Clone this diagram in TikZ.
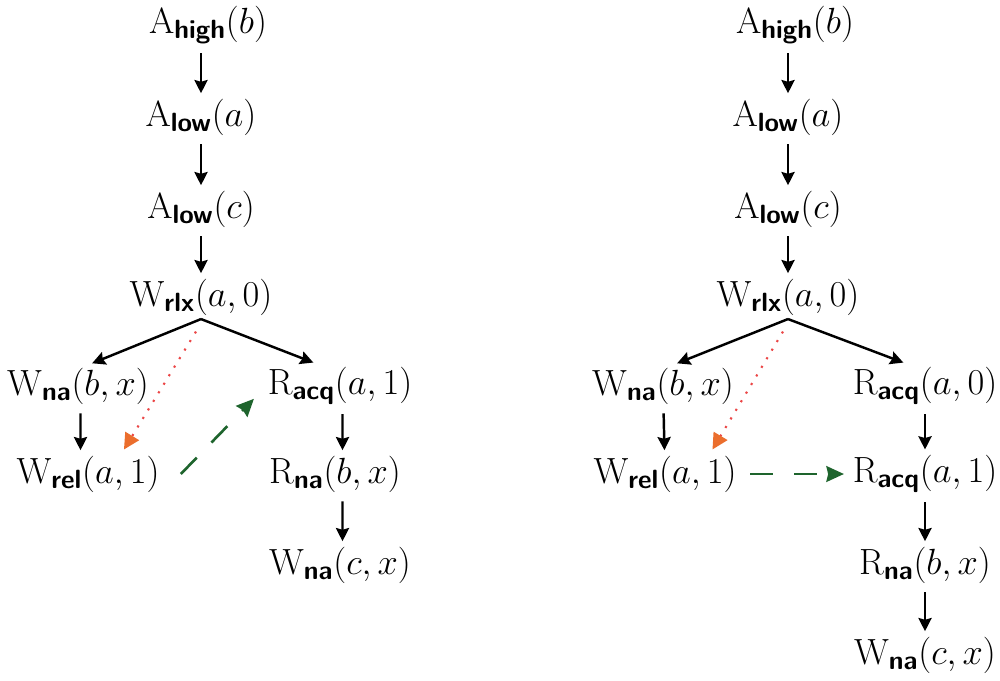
\documentclass[tikz,border=0pt]{standalone}
\usepackage{amsmath}
\usepackage{xcolor}
\usetikzlibrary{arrows.meta, calc}

\definecolor{hbred}{RGB}{235,70,70}
\definecolor{hbtip}{RGB}{235,110,45}
\definecolor{swgreen}{RGB}{30,100,45}

\DeclareMathSizes{20}{20}{15}{11}
\newcommand{\ev}[3]{$\mathrm{#1}_{\textsf{\textbf{#2}}}(#3)$}

\begin{document}
\begin{tikzpicture}[
    x=0.02cm, y=-0.02cm,
    font=\fontsize{20}{24}\selectfont,
    >={Stealth[length=7.5pt, width=7.5pt, inset=1pt]},
    % Node styles
    event/.style={inner sep=2pt, anchor=center},
    % Edge styles
    po/.style={->, line width=1.4pt, draw=black, shorten >=1pt, shorten <=3pt},
    hb/.style={dash pattern=on 1.2pt off 4.5pt, line width=1.2pt, draw=hbred, -{Triangle[color=hbtip, length=9pt, width=9pt]}},
    sw/.style={dash pattern=on 13pt off 12pt, line width=1.5pt, draw=swgreen, -{Stealth[color=swgreen, length=10pt, width=9pt, inset=1pt]}}
]
\useasboundingbox (0,0) rectangle (1000,680);

% -----------------------------------------------------------
% LEFT: execution graph
% -----------------------------------------------------------
\node[event] (ahigh) at (208, 25) {\ev{A}{high}{b}};
\node[event] (alowa) at (201, 117) {\ev{A}{low}{a}};
\node[event] (alowc) at (201, 209) {\ev{A}{low}{c}};
\node[event] (wrlx) at (201, 297) {\ev{W}{rlx}{a, 0}};
\node[event] (wnab) at (78, 386) {\ev{W}{na}{b, x}};
\node[event] (racq) at (340, 386) {\ev{R}{acq}{a, 1}};
\node[event] (wrel) at (88, 474) {\ev{W}{rel}{a, 1}};
\node[event] (rnab) at (335, 474) {\ev{R}{na}{b, x}};
\node[event] (wnac) at (340, 565) {\ev{W}{na}{c, x}};

% -----------------------------------------------------------
% RIGHT: execution graph
% -----------------------------------------------------------
\node[event] (ahighR) at (795, 25) {\ev{A}{high}{b}};
\node[event] (alowaR) at (788, 117) {\ev{A}{low}{a}};
\node[event] (alowcR) at (788, 209) {\ev{A}{low}{c}};
\node[event] (wrlxR) at (788, 297) {\ev{W}{rlx}{a, 0}};
\node[event] (wnabR) at (663, 386) {\ev{W}{na}{b, x}};
\node[event] (racqzR) at (925, 386) {\ev{R}{acq}{a, 0}};
\node[event] (wrelR) at (665, 474) {\ev{W}{rel}{a, 1}};
\node[event] (racqR) at (925, 474) {\ev{R}{acq}{a, 1}};
\node[event] (rnabR) at (925, 565) {\ev{R}{na}{b, x}};
\node[event] (wnacR) at (925, 655) {\ev{W}{na}{c, x}};

% -----------------------------------------------------------
% Connectors (left)
% -----------------------------------------------------------
\draw[po] (ahigh.south -| alowa) -- (alowa);
\draw[po] (alowa) -- (alowc);
\draw[po] (alowc) -- (wrlx);
\draw[po, shorten <=0pt] (wrlx.south) -- ([xshift=0.25cm]wnab.north);
\draw[po, shorten <=0pt] (wrlx.south) -- ([xshift=-0.5cm]racq.north);
\draw[po] ([xshift=0.05cm]wnab.south) -- ([xshift=-0.15cm]wrel.north);
\draw[po] ([xshift=0.05cm]racq.south) -- ([xshift=0.15cm]rnab.north);
\draw[po] ([xshift=0.15cm]rnab.south) -- ([xshift=0.05cm]wnac.north);

\draw[hb] ([xshift=-0.1cm, yshift=-0.25cm]wrlx.south) -- ([xshift=0.72cm, yshift=0.05cm]wrel.north);
\draw[sw] ([xshift=0.35cm]wrel.east) -- ([xshift=-0.2cm, yshift=0.2cm]racq.south west);

% -----------------------------------------------------------
% Connectors (right)
% -----------------------------------------------------------
\draw[po] (ahighR.south -| alowaR) -- (alowaR);
\draw[po] (alowaR) -- (alowcR);
\draw[po] (alowcR) -- (wrlxR);
\draw[po, shorten <=0pt] (wrlxR.south) -- ([xshift=0.25cm]wnabR.north);
\draw[po, shorten <=0pt] (wrlxR.south) -- ([xshift=-0.4cm]racqzR.north);
\draw[po] (wnabR) -- (wrelR);
\draw[po] (racqzR) -- (racqR);
\draw[po] (racqR) -- (rnabR);
\draw[po] (rnabR) -- (wnacR);

\draw[hb] ([xshift=-0.1cm, yshift=-0.25cm]wrlxR.south) -- ([xshift=0.95cm, yshift=0.05cm]wrelR.north);
\draw[sw] ([xshift=0.2cm]wrelR.east) -- ([xshift=-0.1cm]racqR.west);

\end{tikzpicture}
\end{document}
